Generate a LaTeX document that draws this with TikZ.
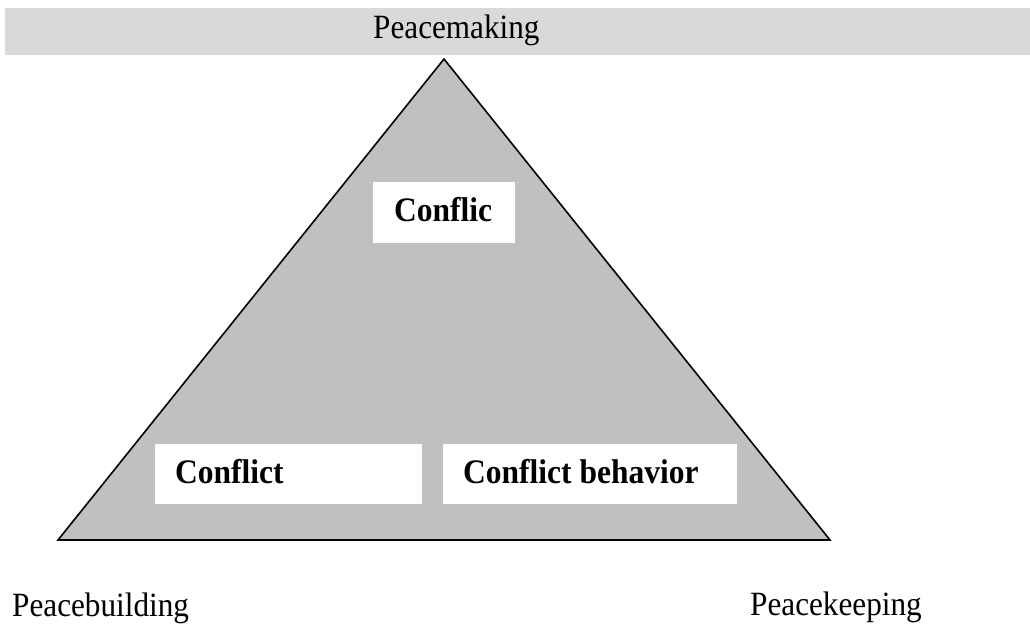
\documentclass[tikz,border=0pt]{standalone}
\usepackage{fontspec}
\usepackage{graphicx}
\setmainfont{Liberation Serif}
\newcommand{\tallt}[1]{\scalebox{1}[1.09]{#1}}
\begin{document}
\begin{tikzpicture}[x=1pt,y=-1pt,
  lbl/.style={anchor=base west,inner sep=0pt,font=\fontsize{31.2}{36}\selectfont},
  blbl/.style={anchor=base west,inner sep=0pt,font=\fontsize{31.5}{36}\selectfont\bfseries},
  wbox/.style={anchor=north west,fill=white,draw=none,inner sep=0pt}]
\useasboundingbox (0,0) rectangle (1030,625);
% top bar
\node[anchor=north west,fill={rgb,255:red,217;green,217;blue,217},inner sep=0pt,minimum width=1025pt,minimum height=47pt] (bar) at (5,8) {};
\node[lbl] (pm) at (373,38) {\tallt{Peacemaking}};
% triangle
\coordinate (apex) at (444,59);
\coordinate (bl) at (58,540);
\coordinate (br) at (830,540);
\draw[line width=1.6pt,line join=miter,fill={rgb,255:red,192;green,192;blue,192}] (apex) -- (br) -- (bl) -- cycle;
% boxes
\node[wbox,minimum width=142pt,minimum height=61pt] (b1) at (373,182) {};
\node[wbox,minimum width=267pt,minimum height=60pt] (b2) at (155,444) {};
\node[wbox,minimum width=294pt,minimum height=60pt] (b3) at (443,444) {};
\node[blbl] (t1) at (394,221) {\tallt{Conflic}};
\node[blbl] (t2) at (175,483) {\tallt{Conflict}};
\node[blbl] (t3) at (463,483) {\tallt{Conflict behavior}};
% bottom labels
\node[lbl] (pb) at (12,616) {\tallt{Peacebuilding}};
\node[lbl] (pk) at (750,615) {\tallt{Peacekeeping}};
\end{tikzpicture}
\end{document}
